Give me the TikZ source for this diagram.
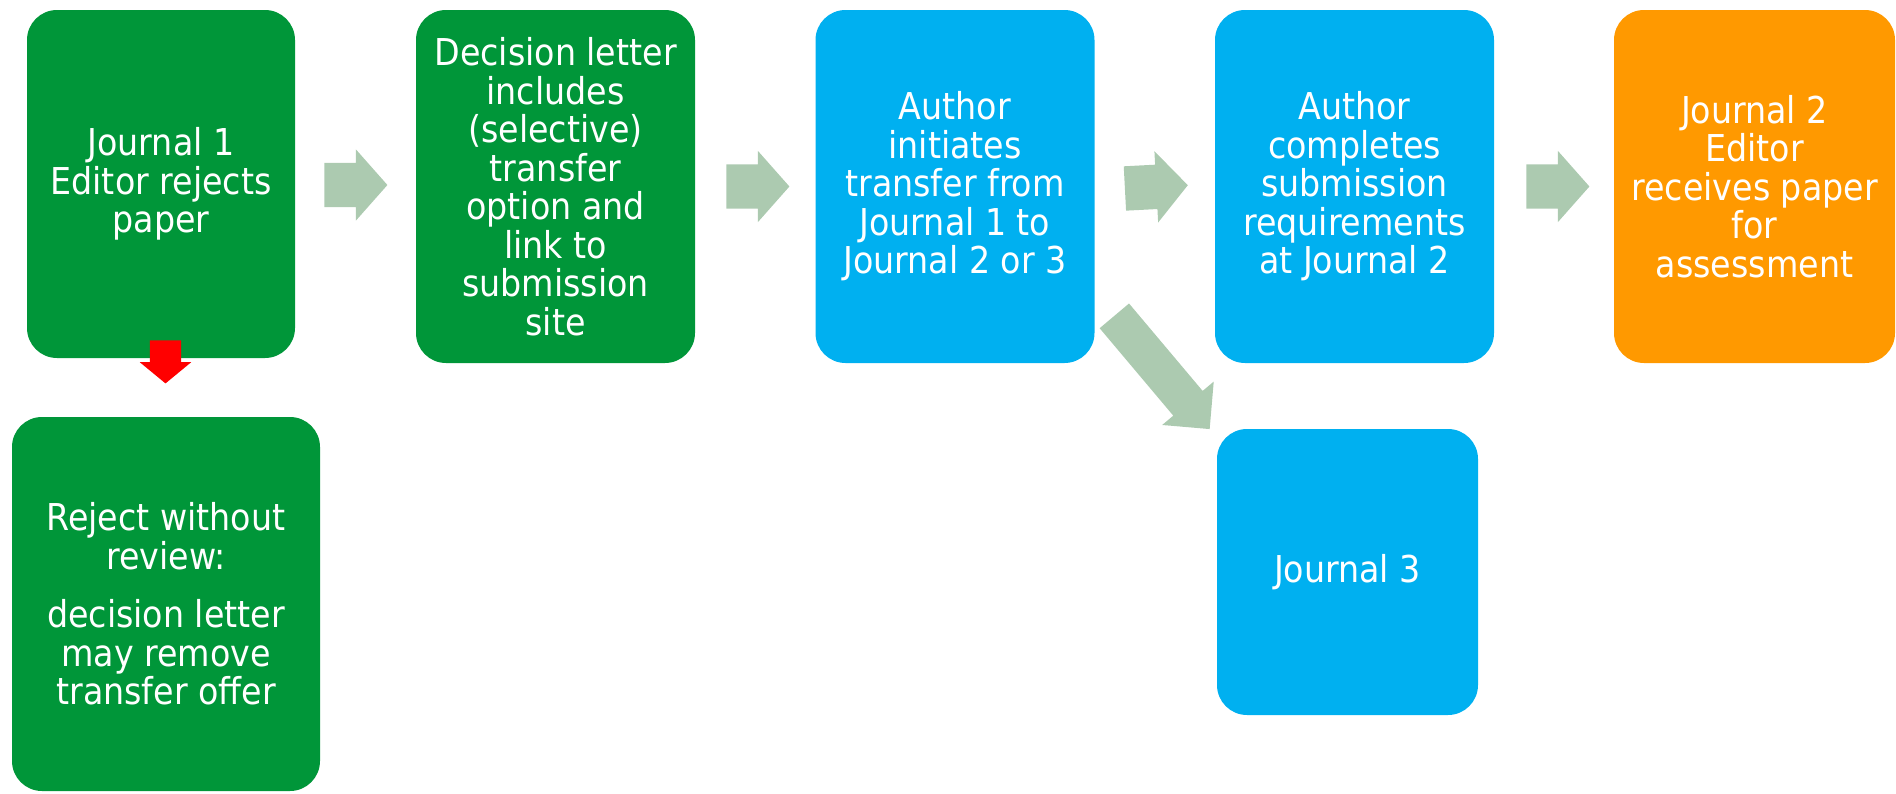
\documentclass[tikz,border=0pt]{standalone}
\usepackage{fontspec}
\setmainfont{DejaVu Sans Condensed}
\usetikzlibrary{shapes.arrows,calc}
\definecolor{jgreen}{RGB}{0,150,57}
\definecolor{jblue}{RGB}{0,176,240}
\definecolor{jorange}{RGB}{255,153,0}
\definecolor{arrowgray}{RGB}{172,202,176}
\newcommand{\boxfont}{\fontsize{37}{38.5}\selectfont}
\tikzset{
  box/.style={rounded corners=30pt, text=white, align=center, inner sep=0pt,
    font=\boxfont, minimum width=279pt, minimum height=353pt},
  flowarrow/.style={single arrow, fill=arrowgray, draw=none, inner xsep=0pt, inner ysep=22pt,
    anchor=tail, minimum height=63pt, single arrow head extend=13.5pt, single arrow tip angle=97}
}
\begin{document}
\begin{tikzpicture}[x=1pt,y=-1pt]
                        \useasboundingbox (0,0) rectangle (1896,793);

                        \node[box, fill=jgreen, minimum width=268pt, minimum height=348pt] (J1) at (161,184) {Journal 1\\Editor rejects\\paper};
                        \node[box, fill=jgreen] (Letter) at (555.5,186.5) {Decision letter\\includes\\(selective)\\transfer\\option and\\link to\\submission\\site};
                        \node[box, fill=jblue] (Init) at (955,186.5) {Author\\initiates\\transfer from\\Journal 1 to\\Journal 2 or 3};
                        \node[box, fill=jblue] (Complete) at (1354.5,186.5) {Author\\completes\\submission\\requirements\\at Journal 2};
                        \node[box, fill=jorange, minimum width=281pt] (J2) at (1754.5,186.5) {Journal 2\\Editor\\receives paper\\for\\assessment};

                        \node[box, fill=jgreen, minimum width=308pt, minimum height=374pt] (Reject) at (166,604) {Reject without\\review:\\[20pt]decision letter\\may remove\\transfer offer};
                        \node[box, fill=jblue, minimum width=261pt, minimum height=286pt] (J3) at (1347.5,572) {Journal 3};

                        \node[flowarrow] (A1) at ($(J1.east)+(29,1)$) {};
                        \node[flowarrow] (A2) at ($(Letter.east)+(31,0)$) {};
                        \node[flowarrow, rotate=3] (A3) at ($(Init.east)+(30,2)$) {};
                        \node[flowarrow] (A4) at ($(Complete.east)+(32,0)$) {};

                        \node[flowarrow, inner ysep=19pt, minimum height=148pt, single arrow head extend=14.5pt,
                          single arrow tip angle=90, rotate=-49.9] (A5) at ($(Init.south east)+(19.5,-47.5)$) {};

                        \node[flowarrow, fill=red, inner ysep=15.5pt, minimum height=43pt, single arrow head extend=10pt,
                          single arrow tip angle=101, rotate=-90] (Down) at ($(J1.south)+(4.5,-18)$) {};
                      \end{tikzpicture}
\end{document}
